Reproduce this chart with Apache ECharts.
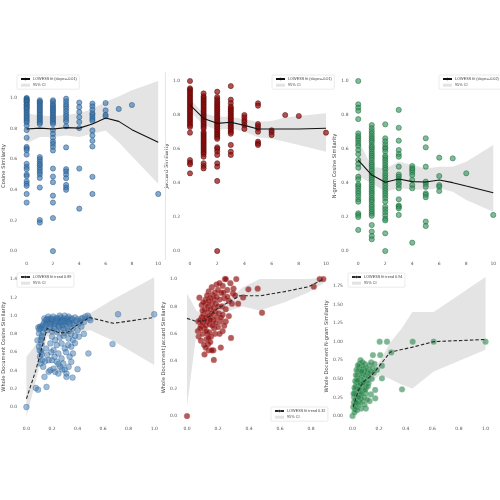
<!DOCTYPE html>
<html><head><meta charset="utf-8">
<script src="https://cdn.jsdelivr.net/npm/echarts@6/dist/echarts.min.js"></script>
<style>html,body{margin:0;padding:0;background:#fff}#c{width:500px;height:500px}</style>
</head><body><div id="c"></div>
<script>
// ---------- DATA ----------
// Top row: discrete x (count), y values per column
const cosCols = [
 [0,[1.0,0.995,0.99,0.985,0.98,0.975,0.97,0.96,0.955,0.95,0.94,0.935,0.93,0.92,0.91,0.9,0.89,0.88,0.87,0.86,0.85,0.84,0.82,0.79,0.74,0.68,0.67,0.66,0.63,0.57,0.55,0.535,0.50,0.49,0.456,0.44,0.426,0.373,0.317]],
 [1,[0.985,0.975,0.97,0.96,0.95,0.94,0.93,0.92,0.91,0.9,0.89,0.88,0.87,0.86,0.85,0.84,0.83,0.614,0.60,0.585,0.57,0.56,0.545,0.53,0.515,0.5,0.478,0.415,0.203,0.186]],
 [2,[0.985,0.975,0.96,0.95,0.94,0.93,0.92,0.91,0.9,0.89,0.88,0.87,0.86,0.85,0.84,0.83,0.79,0.765,0.74,0.716,0.70,0.68,0.657,0.539,0.487,0.45,0.362,0.317,0.216,0.0]],
 [3,[0.995,0.978,0.96,0.945,0.93,0.913,0.895,0.88,0.862,0.847,0.815,0.677,0.535,0.52,0.50,0.476,0.432,0.415,0.40]],
 [4,[0.97,0.94,0.908,0.875,0.843,0.803,0.539,0.277]],
 [5,[0.963,0.945,0.924,0.9,0.89,0.875,0.862,0.85,0.788,0.755,0.72,0.683,0.485,0.373]],
 [6,[0.967,0.919,0.89,0.88]],
 [7,[0.928]],
 [8,[0.954]],
 [10,[0.373]]
];
const jacCols = [
 [0,[1.0,0.957,0.95,0.94,0.93,0.92,0.91,0.9,0.89,0.88,0.87,0.86,0.85,0.84,0.83,0.82,0.81,0.8,0.79,0.78,0.77,0.76,0.75,0.74,0.73,0.696,0.535,0.52,0.51,0.457]],
 [1,[0.927,0.91,0.9,0.89,0.88,0.87,0.86,0.85,0.84,0.83,0.82,0.81,0.8,0.79,0.78,0.77,0.76,0.75,0.74,0.73,0.72,0.7,0.69,0.68,0.67,0.66,0.65,0.64,0.63,0.62,0.61,0.6,0.59,0.58,0.57,0.555,0.516,0.5,0.486]],
 [2,[0.937,0.905,0.893,0.88,0.87,0.86,0.85,0.84,0.83,0.82,0.81,0.8,0.79,0.78,0.77,0.76,0.75,0.74,0.73,0.72,0.71,0.7,0.69,0.68,0.67,0.66,0.61,0.6,0.585,0.565,0.516,0.496,0.412,0.0]],
 [3,[0.97,0.89,0.87,0.85,0.84,0.83,0.82,0.81,0.8,0.79,0.78,0.77,0.76,0.75,0.74,0.73,0.72,0.71,0.7,0.69,0.624,0.584,0.565]],
 [4,[0.8,0.786,0.77,0.757,0.74,0.718]],
 [5,[0.869,0.855,0.747,0.735,0.72,0.702,0.643,0.633,0.624]],
 [6,[0.71,0.698,0.682]],
 [7,[0.8]],
 [8,[0.794]],
 [10,[0.696]]
];
const ngrCols = [
 [0,[1.0,0.863,0.843,0.825,0.776,0.692,0.676,0.663,0.649,0.633,0.618,0.594,0.57,0.535,0.512,0.49,0.437,0.422,0.392,0.382,0.369,0.353,0.339,0.323,0.304,0.29,0.222,0.212,0.2,0.124]],
 [1,[0.741,0.722,0.705,0.69,0.675,0.662,0.65,0.638,0.62,0.61,0.598,0.585,0.572,0.56,0.548,0.535,0.52,0.508,0.497,0.482,0.47,0.455,0.443,0.43,0.418,0.405,0.39,0.378,0.365,0.352,0.34,0.327,0.312,0.3,0.288,0.272,0.26,0.245,0.232,0.22,0.207,0.153,0.114,0.088,0.069]],
 [2,[0.745,0.663,0.645,0.627,0.61,0.6,0.585,0.56,0.549,0.535,0.52,0.505,0.49,0.478,0.46,0.445,0.43,0.415,0.4,0.385,0.37,0.355,0.34,0.325,0.31,0.29,0.26,0.245,0.228,0.21,0.19,0.18,0.104,0.0]],
 [3,[0.83,0.725,0.649,0.594,0.57,0.555,0.496,0.45,0.437,0.422,0.402,0.388,0.369,0.304,0.267,0.261,0.251,0.212]],
 [4,[0.5,0.486,0.476,0.463,0.447,0.418,0.388,0.369,0.049]],
 [5,[0.663,0.61,0.496,0.408,0.394,0.378,0.339,0.33,0.316,0.173,0.147]],
 [6,[0.549,0.441,0.388,0.378,0.353]],
 [7,[0.545]],
 [8,[0.457]],
 [10,[0.212]]
];
const topFitX = [0,1,2,3,4,5,6,7,8,10];
const cosFit = [0.797,0.803,0.797,0.806,0.803,0.83,0.869,0.847,0.793,0.71];
const cosUp  = [0.90,0.885,0.88,0.89,0.90,0.928,0.975,1.01,1.05,1.11];
const cosLo  = [0.705,0.745,0.745,0.755,0.745,0.766,0.788,0.71,0.62,0.44];
const jacFit = [0.859,0.78,0.751,0.757,0.739,0.718,0.718,0.718,0.718,0.722];
const jacUp  = [0.892,0.81,0.79,0.79,0.775,0.76,0.765,0.786,0.794,0.81];
const jacLo  = [0.82,0.741,0.712,0.72,0.702,0.669,0.66,0.643,0.624,0.584];
const ngrFit = [0.535,0.447,0.404,0.424,0.408,0.406,0.418,0.402,0.382,0.343];
const ngrUp  = [0.653,0.496,0.486,0.525,0.506,0.486,0.496,0.496,0.525,0.624];
const ngrLo  = [0.44,0.398,0.349,0.369,0.363,0.359,0.369,0.349,0.3,0.231];

// Bottom row: whole-document similarity scatter
const wdCosPts = [[0.0,0.0],[0.073,0.209],[0.091,0.19],[0.157,0.22],[0.141,0.33],[0.174,0.385],[0.187,0.403],[0.212,0.421],[0.225,0.385],[0.25,0.366],[0.263,0.44],[0.3,0.41],[0.313,0.366],[0.313,0.33],[0.361,0.322],[0.4,0.414],[0.485,0.586],[0.674,0.689],[0.717,1.015],[1.0,1.015],
 [0.098,0.806],[0.111,0.733],[0.098,0.66],[0.116,0.605],[0.106,0.55],[0.124,0.513],[0.111,0.476],[0.131,0.44],[0.187,0.696],[0.225,0.733],[0.237,0.678],[0.212,0.623],[0.25,0.586],[0.2,0.513],[0.237,0.495],[0.275,0.531],[0.288,0.476],[0.351,0.495],[0.338,0.55],[0.364,0.586],[0.351,0.66],[0.364,0.733],[0.326,0.678],[0.3,0.641],[0.275,0.696],[0.162,0.568],[0.174,0.513],[0.086,0.73],[0.106,0.88],[0.093,0.87],[0.12,0.58],[0.104,0.62],[0.118,0.69],[0.122,0.76],[0.26,0.76],[0.29,0.78],[0.33,0.75],[0.2,0.77],[0.145,0.5],[0.22,0.55],[0.31,0.6],[0.38,0.7],[0.41,0.77],[0.45,0.8],[0.25,0.47],[0.28,0.41],[0.33,0.44],[0.195,0.6],[0.155,0.64],
 [0.13,0.9],[0.14,0.93],[0.15,0.95],[0.16,0.92],[0.17,0.96],[0.18,0.94],[0.19,0.97],[0.2,0.93],[0.21,0.95],[0.22,0.91],[0.23,0.97],[0.24,0.94],[0.25,0.96],[0.26,0.92],[0.27,0.98],[0.28,0.95],[0.29,0.97],[0.3,0.93],[0.31,0.96],[0.32,0.94],[0.33,0.99],[0.34,0.95],[0.35,0.97],[0.36,0.92],[0.38,0.98],[0.4,0.96],[0.42,0.94],[0.44,0.97],[0.46,0.99],[0.48,1.0],[0.49,0.97],[0.12,0.88],[0.11,0.86],[0.1,0.85],[0.15,0.89],[0.19,0.9],[0.22,0.88],[0.25,0.89],[0.28,0.9],[0.31,0.89],[0.34,0.91],[0.37,0.9],[0.41,0.91],[0.45,0.93],[0.5,0.95],[0.17,0.99],[0.21,0.99],[0.26,1.0],[0.3,1.0],[0.32,0.97],[0.24,0.97],[0.14,0.97],[0.2,0.96],[0.23,0.94],[0.27,0.93],[0.29,0.94],[0.33,0.93],[0.36,0.96],[0.39,0.94],[0.43,0.97],[0.18,0.91],[0.16,0.96],[0.16,0.84],[0.2,0.83],[0.24,0.82],[0.27,0.85],[0.3,0.81],[0.33,0.83],[0.36,0.86],[0.4,0.84],[0.22,0.86],[0.13,0.82],[0.12,0.78],[0.35,0.8],[0.38,0.78],[0.14,0.86],[0.18,0.87],[0.26,0.88],[0.29,0.86],[0.32,0.87],[0.43,0.88]];
const wdJacPts = [[0.0,0.0],[0.245,1.0],[0.25,1.0],[0.318,1.0],[0.396,0.925],[0.456,0.93],[0.484,0.754],[0.856,1.0],[0.88,1.0],[0.818,0.944],[0.362,0.866],[0.296,0.895],[0.08,0.864],[0.173,0.41],[0.113,0.45],[0.14,0.48],[0.17,0.48],[0.16,0.48],[0.218,0.5],[0.284,0.57],[0.136,0.525],[0.073,0.69],
 [0.07,0.62],[0.075,0.58],[0.09,0.55],[0.1,0.6],[0.09,0.66],[0.085,0.7],[0.095,0.72],[0.1,0.68],[0.105,0.74],[0.11,0.7],[0.11,0.64],[0.115,0.78],[0.12,0.72],[0.12,0.66],[0.125,0.82],[0.13,0.76],[0.13,0.69],[0.13,0.6],[0.135,0.8],[0.14,0.73],[0.14,0.84],[0.145,0.67],[0.15,0.78],[0.15,0.86],[0.155,0.72],[0.16,0.82],[0.16,0.75],[0.165,0.88],[0.17,0.79],[0.17,0.7],[0.175,0.85],[0.18,0.76],[0.18,0.9],[0.185,0.82],[0.19,0.72],[0.19,0.87],[0.2,0.8],[0.2,0.92],[0.205,0.75],[0.21,0.85],[0.215,0.69],[0.22,0.9],[0.225,0.8],[0.23,0.74],[0.23,0.95],[0.24,0.86],[0.25,0.78],[0.26,0.92],[0.27,0.84],[0.28,0.97],[0.1,0.77],[0.12,0.85],[0.145,0.61],[0.175,0.64],[0.2,0.65],[0.23,0.62],[0.25,0.69],[0.085,0.64],[0.095,0.81],[0.14,0.91],[0.16,0.94],[0.19,0.96],[0.21,0.97],[0.235,0.9],[0.26,0.87],[0.3,0.93],[0.27,0.73],[0.11,0.52],[0.125,0.56],[0.155,0.58],[0.18,0.6],[0.21,0.6],[0.105,0.83],[0.13,0.88],[0.15,0.7],[0.165,0.66],[0.185,0.68],[0.22,0.72],[0.24,0.66],[0.125,0.62],[0.33,0.82],[0.31,0.88],[0.29,0.82],[0.12,0.5],[0.15,0.54],[0.14,0.57]];
const wdNgrPts = [[0.204,1.0],[0.259,1.0],[0.452,1.0],[0.61,1.0],[1.0,1.0],[0.372,0.358],[0.291,0.855],[0.221,0.506],[0.221,0.676],[0.208,0.82],[0.153,0.82],[0.171,0.237],[0.138,0.29],[0.128,0.2],[0.1,0.1],[0.183,0.62],[0.0,0.0],
 [0.005,0.12],[0.01,0.18],[0.012,0.25],[0.015,0.3],[0.018,0.15],[0.02,0.35],[0.022,0.22],[0.025,0.4],[0.028,0.28],[0.03,0.45],[0.03,0.12],[0.032,0.5],[0.035,0.33],[0.038,0.55],[0.04,0.2],[0.04,0.42],[0.042,0.6],[0.045,0.37],[0.048,0.65],[0.05,0.28],[0.05,0.5],[0.052,0.7],[0.055,0.44],[0.058,0.58],[0.06,0.32],[0.06,0.62],[0.062,0.24],[0.065,0.53],[0.068,0.68],[0.07,0.4],[0.072,0.47],[0.075,0.72],[0.078,0.56],[0.08,0.35],[0.08,0.64],[0.085,0.5],[0.088,0.6],[0.09,0.43],[0.092,0.7],[0.095,0.55],[0.1,0.65],[0.1,0.38],[0.105,0.58],[0.11,0.48],[0.112,0.62],[0.118,0.53],[0.12,0.44],[0.125,0.68],[0.13,0.57],[0.135,0.6],[0.14,0.72],[0.145,0.5],[0.15,0.64],[0.16,0.58],[0.165,0.7],[0.17,0.35],[0.03,0.62],[0.025,0.55],[0.02,0.47],[0.015,0.38],[0.008,0.3],[0.045,0.15],[0.055,0.18],[0.065,0.1],[0.075,0.2],[0.085,0.25],[0.09,0.15],[0.1,0.3],[0.11,0.22],[0.035,0.08],[0.02,0.09],[0.06,0.75],[0.07,0.6],[0.04,0.68],[0.05,0.36],[0.058,0.44],[0.068,0.3],[0.082,0.45],[0.095,0.35],[0.115,0.4],[0.048,0.25],[0.038,0.48],[0.028,0.18],[0.015,0.05]];

const wdCosFitX = [0,0.073,0.119,0.162,0.2,0.263,0.326,0.376,0.44,0.49,0.68,1.0];
const wdCosFit  = [0.09,0.40,0.64,0.86,0.84,0.81,0.82,0.88,0.93,0.98,0.916,0.98];
const wdCosBandX = [0,0.05,0.1,0.16,0.2,0.3,0.4,0.5,0.67,1.0];
const wdCosUp = [0.55,0.64,0.74,0.9,0.92,0.93,0.95,1.03,1.17,1.42];
const wdCosLo = [-0.1,0.16,0.43,0.77,0.79,0.77,0.82,0.84,0.73,0.46];

const wdJacFitX = [0,0.062,0.118,0.184,0.25,0.34,0.473,0.629,0.784,0.88];
const wdJacFit  = [0.713,0.69,0.70,0.774,0.82,0.878,0.878,0.908,0.944,1.0];
const wdJacBandX = [0,0.06,0.12,0.2,0.3,0.36,0.47,0.63,0.78,0.88];
const wdJacUp = [0.895,0.77,0.73,0.8,0.88,0.94,1.0,1.0,1.0,1.01];
const wdJacLo = [0.07,0.6,0.67,0.74,0.78,0.8,0.77,0.83,0.9,0.97];

const wdNgrFitX = [0.005,0.013,0.045,0.083,0.146,0.196,0.284,0.46,0.61,1.0];
const wdNgrFit  = [0.12,0.17,0.35,0.46,0.55,0.66,0.86,0.93,1.0,1.03];
const wdNgrBandX = [0.0,0.02,0.1,0.15,0.21,0.28,0.37,0.45,0.61,1.0];
const wdNgrUp = [0.22,0.26,0.55,0.62,0.75,0.98,1.18,1.4,1.4,1.87];
const wdNgrLo = [0.08,0.125,0.39,0.48,0.55,0.5,0.42,0.37,0.6,0.89];

// Tick labels
const topXTicks = [0,2,4,6,8,10];
const unitTicks = [0,0.2,0.4,0.6,0.8,1.0];
const wdJacXTicks = [0,0.2,0.4,0.6,0.8];
const wdCosYTicks = [0,0.2,0.4,0.6,0.8,1.0,1.2,1.4];
const wdNgrYTicks = [0,0.25,0.5,0.75,1.0,1.25,1.5,1.75];

const yNames = ['Cosine Similarity','Jaccard Similarity','N-gram Cosine Similarity',
 'Whole Document Cosine Similarity','Whole Document Jaccard Similarity','Whole Document N-gram Similarity'];
const fitNames = ['LOWESS fit (slope=-0.01)','LOWESS fit (slope=-0.01)','LOWESS fit (slope=-0.02)',
 'LOWESS fit trend 0.89','LOWESS fit trend 0.32','LOWESS fit trend 0.94'];
const ciName = '95% CI';

// ---------- BUILD ----------
const flat = cols => cols.flatMap(([x, ys]) => ys.map(y => [x, y]));
const zip = (xs, ys) => xs.map((x, i) => [x, ys[i]]);

const panels = [
 {grid:{left:15.2,top:72.6,width:149.6,height:187}, x:[-0.5,10.5], y:[-0.0555,1.1655], xt:topXTicks, yt:unitTicks, yd:1,
  pts:flat(cosCols), fit:zip(topFitX,cosFit), bx:topFitX, up:cosUp, lo:cosLo, col:'rgba(60,120,178,0.8)', edge:'#24507a', dash:false,
  leg:{left:17,top:75}, nameGap:10.5},
 {grid:{left:183.2,top:72.5,width:149.6,height:187}, x:[-0.5,10.5], y:[-0.05,1.05], xt:topXTicks, yt:unitTicks, yd:1,
  pts:flat(jacCols), fit:zip(topFitX,jacFit), bx:topFitX, up:jacUp, lo:jacLo, col:'rgba(150,12,12,0.9)', edge:'#4a0000', dash:false,
  leg:{left:272,top:75}, nameGap:10},
 {grid:{left:351.5,top:72.5,width:149.6,height:187}, x:[-0.5,10.5], y:[-0.05,1.05], xt:topXTicks, yt:unitTicks, yd:1,
  pts:flat(ngrCols), fit:zip(topFitX,ngrFit), bx:topFitX, up:ngrUp, lo:ngrLo, col:'rgba(50,150,90,0.8)', edge:'#1c5e36', dash:false,
  leg:{left:439,top:75}, nameGap:10.5},
 {grid:{left:15.4,top:270.3,width:145.2,height:152.8}, x:[-0.05,1.05], y:[-0.176,1.496], xt:unitTicks, yt:wdCosYTicks, yd:1,
  pts:wdCosPts, fit:zip(wdCosFitX,wdCosFit), bx:wdCosBandX, up:wdCosUp, lo:wdCosLo, col:'rgba(60,120,175,0.62)', edge:'rgba(40,90,140,0.6)', dash:true,
  leg:{left:17,top:273}, nameGap:10.5},
 {grid:{left:180.2,top:272.2,width:150,height:150.7}, x:[-0.044,0.924], y:[-0.05,1.05], xt:wdJacXTicks, yt:unitTicks, yd:1,
  pts:wdJacPts, fit:zip(wdJacFitX,wdJacFit), bx:wdJacBandX, up:wdJacUp, lo:wdJacLo, col:'rgba(135,8,8,0.82)', edge:'rgba(210,110,110,0.8)', dash:true,
  leg:{left:271,top:407}, nameGap:10.5},
 {grid:{left:345.9,top:270.1,width:146.3,height:152.8}, x:[-0.05,1.05], y:[-0.0935,1.9635], xt:unitTicks, yt:wdNgrYTicks, yd:2,
  pts:wdNgrPts, fit:zip(wdNgrFitX,wdNgrFit), bx:wdNgrBandX, up:wdNgrUp, lo:wdNgrLo, col:'rgba(35,125,70,0.72)', edge:'rgba(130,200,150,0.8)', dash:true,
  leg:{left:348,top:273}, nameGap:11.5}
];

const grid = [], xAxis = [], yAxis = [], series = [], legend = [];
const lab = {fontSize:4.5, color:'#555', fontFamily:'DejaVu Sans'};
panels.forEach((p, i) => {
  grid.push(p.grid);
  xAxis.push({type:'value', gridIndex:i, min:p.x[0], max:p.x[1],
    axisLine:{show:false}, axisTick:{show:false}, splitLine:{show:false},
    axisLabel:Object.assign({customValues:p.xt, margin:i<3?1.5:3, formatter:v=> i<3 ? String(v) : v.toFixed(1)}, lab)});
  yAxis.push({type:'value', gridIndex:i, min:p.y[0], max:p.y[1],
    axisLine:{show:false}, axisTick:{show:false}, splitLine:{show:false},
    name:yNames[i], nameLocation:'middle', nameGap:p.nameGap,
    nameTextStyle:{fontSize:5.2, color:'#444', fontFamily:'DejaVu Sans'},
    axisLabel:Object.assign({customValues:p.yt, margin:3, formatter:v=>v.toFixed(p.yd)}, lab)});
  const band = {xs:p.bx, up:p.up, lo:p.lo};
  series.push({type:'custom', name:ciName, xAxisIndex:i, yAxisIndex:i, silent:true, z:1,
    itemStyle:{color:'#e3e3e3'}, data:[[p.bx[0], p.up[0]]],
    renderItem:(params, api) => {
      const pts = band.up.map((u,k)=>api.coord([band.xs[k],u]))
        .concat(band.lo.map((l,k)=>api.coord([band.xs[k],l])).reverse());
      return {type:'polygon', shape:{points:pts}, style:{fill:'#e3e3e3', opacity:0.95}};
    }});
  series.push({type:'scatter', name:'pts'+i, xAxisIndex:i, yAxisIndex:i, z:2, silent:true,
    symbolSize:i<3?5.2:5.8, data:p.pts,
    itemStyle:{color:p.col, borderColor:p.edge, borderWidth:0.6}});
  series.push({type:'line', name:fitNames[i], xAxisIndex:i, yAxisIndex:i, z:3, silent:true,
    data:p.fit, showSymbol:false, symbol:'none',
    lineStyle:{color:p.dash?'#2a2a2a':'#111', width:1.1, type:p.dash?[3.5,2]:'solid'},
    itemStyle:{color:p.dash?'#2a2a2a':'#111'}});
  legend.push({orient:'vertical', left:p.leg.left, top:p.leg.top, itemWidth:9, itemHeight:3, itemGap:2.2,
    padding:[2,2.5,2,3], backgroundColor:'#fff', borderColor:'#ddd', borderWidth:0.6, borderRadius:1,
    textStyle:{fontSize:3.8, color:'#444', fontFamily:'Liberation Sans', padding:[0,0,0,-2]}, selectedMode:false,
    data:[{name:fitNames[i]}, {name:ciName, icon:'rect', itemStyle:{color:'#e3e3e3'}}]});
});
// light vertical frame line at right edge of first panel
yAxis.push({type:'value', gridIndex:0, position:'right', min:panels[0].y[0], max:panels[0].y[1],
  axisLine:{show:true, lineStyle:{color:'#e6e6e6', width:1}}, axisTick:{show:false},
  axisLabel:{show:false}, splitLine:{show:false}});

const chart = echarts.init(document.getElementById('c'), null, {renderer:'canvas'});
chart.setOption({backgroundColor:'#fff', animation:false, grid, xAxis, yAxis, series, legend});
</script></body></html>
